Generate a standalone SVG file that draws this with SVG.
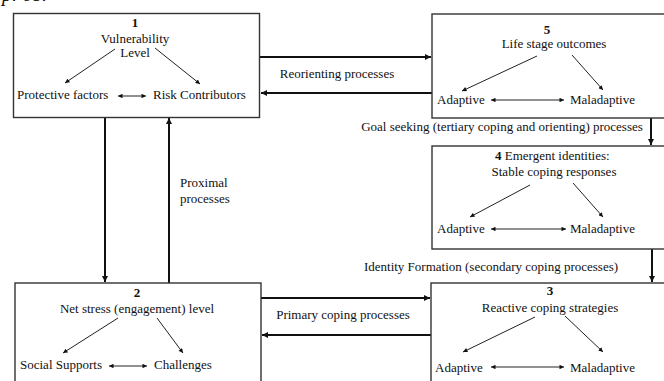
<svg xmlns="http://www.w3.org/2000/svg" width="664" height="381" viewBox="0 0 664 381">
<defs>
<marker id="ah" viewBox="0 0 10 10" refX="10" refY="5" markerWidth="3.2" markerHeight="3.2" orient="auto" markerUnits="strokeWidth"><path d="M0,0 L10,5 L0,10 z" fill="#111"/></marker>
<marker id="as" viewBox="0 0 10 10" refX="10" refY="5" markerWidth="5" markerHeight="4.5" orient="auto-start-reverse" markerUnits="strokeWidth"><path d="M0,0 L10,5 L0,10 z" fill="#111"/></marker>
</defs>
<style>
text{font-family:"Liberation Serif","Times New Roman",serif;font-size:13px;fill:#111}
.b{font-weight:bold}
.m{text-anchor:middle}
.box{fill:#fff;stroke:#333;stroke-width:1.4}
.c{stroke:#111;stroke-width:2;fill:none;marker-end:url(#ah)}
.t{stroke:#222;stroke-width:1;fill:none;marker-end:url(#as)}
.d{stroke:#222;stroke-width:1;fill:none;marker-end:url(#as);marker-start:url(#as)}
</style>
<rect width="664" height="381" fill="#fff"/>
<text x="2" y="1" style="font-style:italic;font-size:20px">p. 68.</text>

<g id="connectors">
<line class="c" x1="260" y1="57" x2="431" y2="57"/>
<line class="c" x1="432" y1="93" x2="261" y2="93"/>
<line class="c" x1="105" y1="118" x2="105" y2="282"/>
<line class="c" x1="169" y1="283" x2="169" y2="118"/>
<line class="c" x1="261" y1="298" x2="430" y2="298"/>
<line class="c" x1="431" y1="335" x2="262" y2="335"/>
<line class="c" x1="651" y1="118" x2="651" y2="145"/>
<line class="c" x1="652" y1="249" x2="652" y2="282"/>
<text class="m" x="337" y="78">Reorienting processes</text>
<text class="m" x="502" y="131">Goal seeking (tertiary coping and orienting) processes</text>
<text class="m" x="491" y="271">Identity Formation (secondary coping processes)</text>
<text class="m" x="343" y="319">Primary coping processes</text>
<text x="180" y="187">Proximal</text>
<text x="180" y="203">processes</text>
</g>

<g id="node1">
<rect class="box" x="13.5" y="13.5" width="246" height="104"/>
<text class="m b" x="135" y="27">1</text>
<text class="m" x="135" y="43">Vulnerability</text>
<text class="m" x="135" y="57">Level</text>
<line class="t" x1="115" y1="49" x2="65" y2="83"/>
<line class="t" x1="155" y1="48" x2="200" y2="84"/>
<text x="17" y="99">Protective factors</text>
<line class="d" x1="118" y1="96" x2="146" y2="96"/>
<text x="153" y="99">Risk Contributors</text>
</g>

<g id="node5">
<rect class="box" x="432" y="14" width="240" height="104"/>
<text class="m b" x="547" y="34">5</text>
<text class="m" x="554" y="48">Life stage outcomes</text>
<line class="t" x1="537" y1="56" x2="462" y2="91"/>
<line class="t" x1="572" y1="55" x2="603" y2="90"/>
<text x="437" y="104">Adaptive</text>
<line class="d" x1="491" y1="100" x2="564" y2="100"/>
<text x="570" y="104">Maladaptive</text>
</g>

<g id="node4">
<rect class="box" x="432" y="146" width="240" height="103"/>
<text x="495" y="160"><tspan class="b">4</tspan>  Emergent identities:</text>
<text class="m" x="554" y="176">Stable coping responses</text>
<line class="t" x1="530" y1="185" x2="470" y2="217"/>
<line class="t" x1="573" y1="183" x2="603" y2="217"/>
<text x="437" y="233">Adaptive</text>
<line class="d" x1="491" y1="229" x2="566" y2="229"/>
<text x="570" y="233">Maladaptive</text>
</g>

<g id="node2">
<rect class="box" x="15" y="283" width="246" height="110"/>
<text class="m b" x="137" y="297">2</text>
<text class="m" x="137" y="313">Net stress (engagement) level</text>
<line class="t" x1="118" y1="318" x2="63" y2="353"/>
<line class="t" x1="157" y1="318" x2="183" y2="353"/>
<text x="20" y="369">Social Supports</text>
<line class="d" x1="109" y1="366" x2="147" y2="366"/>
<text x="154" y="369">Challenges</text>
</g>

<g id="node3">
<rect class="box" x="431" y="283" width="240" height="110"/>
<text class="m b" x="550" y="295">3</text>
<text class="m" x="550" y="312">Reactive coping strategies</text>
<line class="t" x1="535" y1="317" x2="463" y2="352"/>
<line class="t" x1="565" y1="316" x2="603" y2="352"/>
<text x="435" y="372">Adaptive</text>
<line class="d" x1="491" y1="367" x2="564" y2="367"/>
<text x="570" y="372">Maladaptive</text>
</g>
</svg>
